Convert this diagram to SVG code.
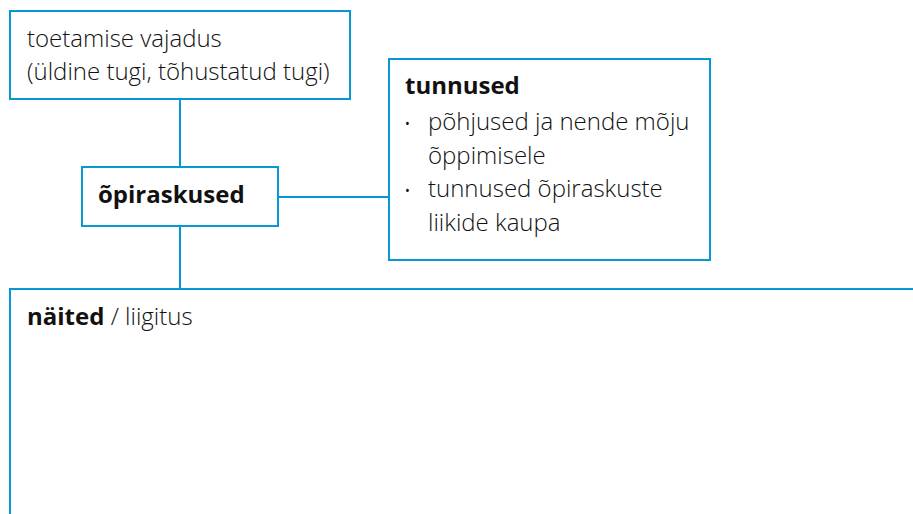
<svg xmlns="http://www.w3.org/2000/svg" width="913" height="514" viewBox="0 0 913 514">
<style>
.box{fill:#fff;stroke:#0996d4;stroke-width:2}
.ln{stroke:#0996d4;stroke-width:2;fill:none}
text{font-family:"Open Sans","Noto Sans","Liberation Sans",sans-serif;font-size:24px;fill:#111}
.l{font-weight:300}
.b{font-weight:700}
.bu{font-size:18px}
</style>
<rect width="913" height="514" fill="#fff"/>
<g id="connectors">
<line class="ln" x1="180" y1="99" x2="180" y2="167"/>
<line class="ln" x1="180" y1="226" x2="180" y2="289"/>
<line class="ln" x1="278" y1="197" x2="389" y2="197"/>
</g>
<g id="node-toetamise">
<rect class="box" x="10" y="11" width="340" height="88"/>
<text class="l" x="27" y="47">toetamise vajadus</text>
<text class="l" x="27" y="80">(üldine tugi, tõhustatud tugi)</text>
</g>
<g id="node-opiraskused">
<rect class="box" x="82" y="167" width="196" height="59"/>
<text class="b" x="98" y="203">õpiraskused</text>
</g>
<g id="node-tunnused">
<rect class="box" x="389" y="59" width="321" height="201"/>
<text class="b" x="405" y="94">tunnused</text>
<text class="l bu" x="404" y="130">•</text>
<text class="l" x="428" y="130">põhjused ja nende mõju</text>
<text class="l" x="428" y="164">õppimisele</text>
<text class="l bu" x="404" y="197">•</text>
<text class="l" x="428" y="197">tunnused õpiraskuste</text>
<text class="l" x="428" y="231">liikide kaupa</text>
</g>
<g id="node-naited">
<rect class="box" x="10" y="289" width="920" height="240"/>
<text x="27" y="325"><tspan class="b">näited</tspan><tspan class="l"> / liigitus</tspan></text>
</g>
</svg>
